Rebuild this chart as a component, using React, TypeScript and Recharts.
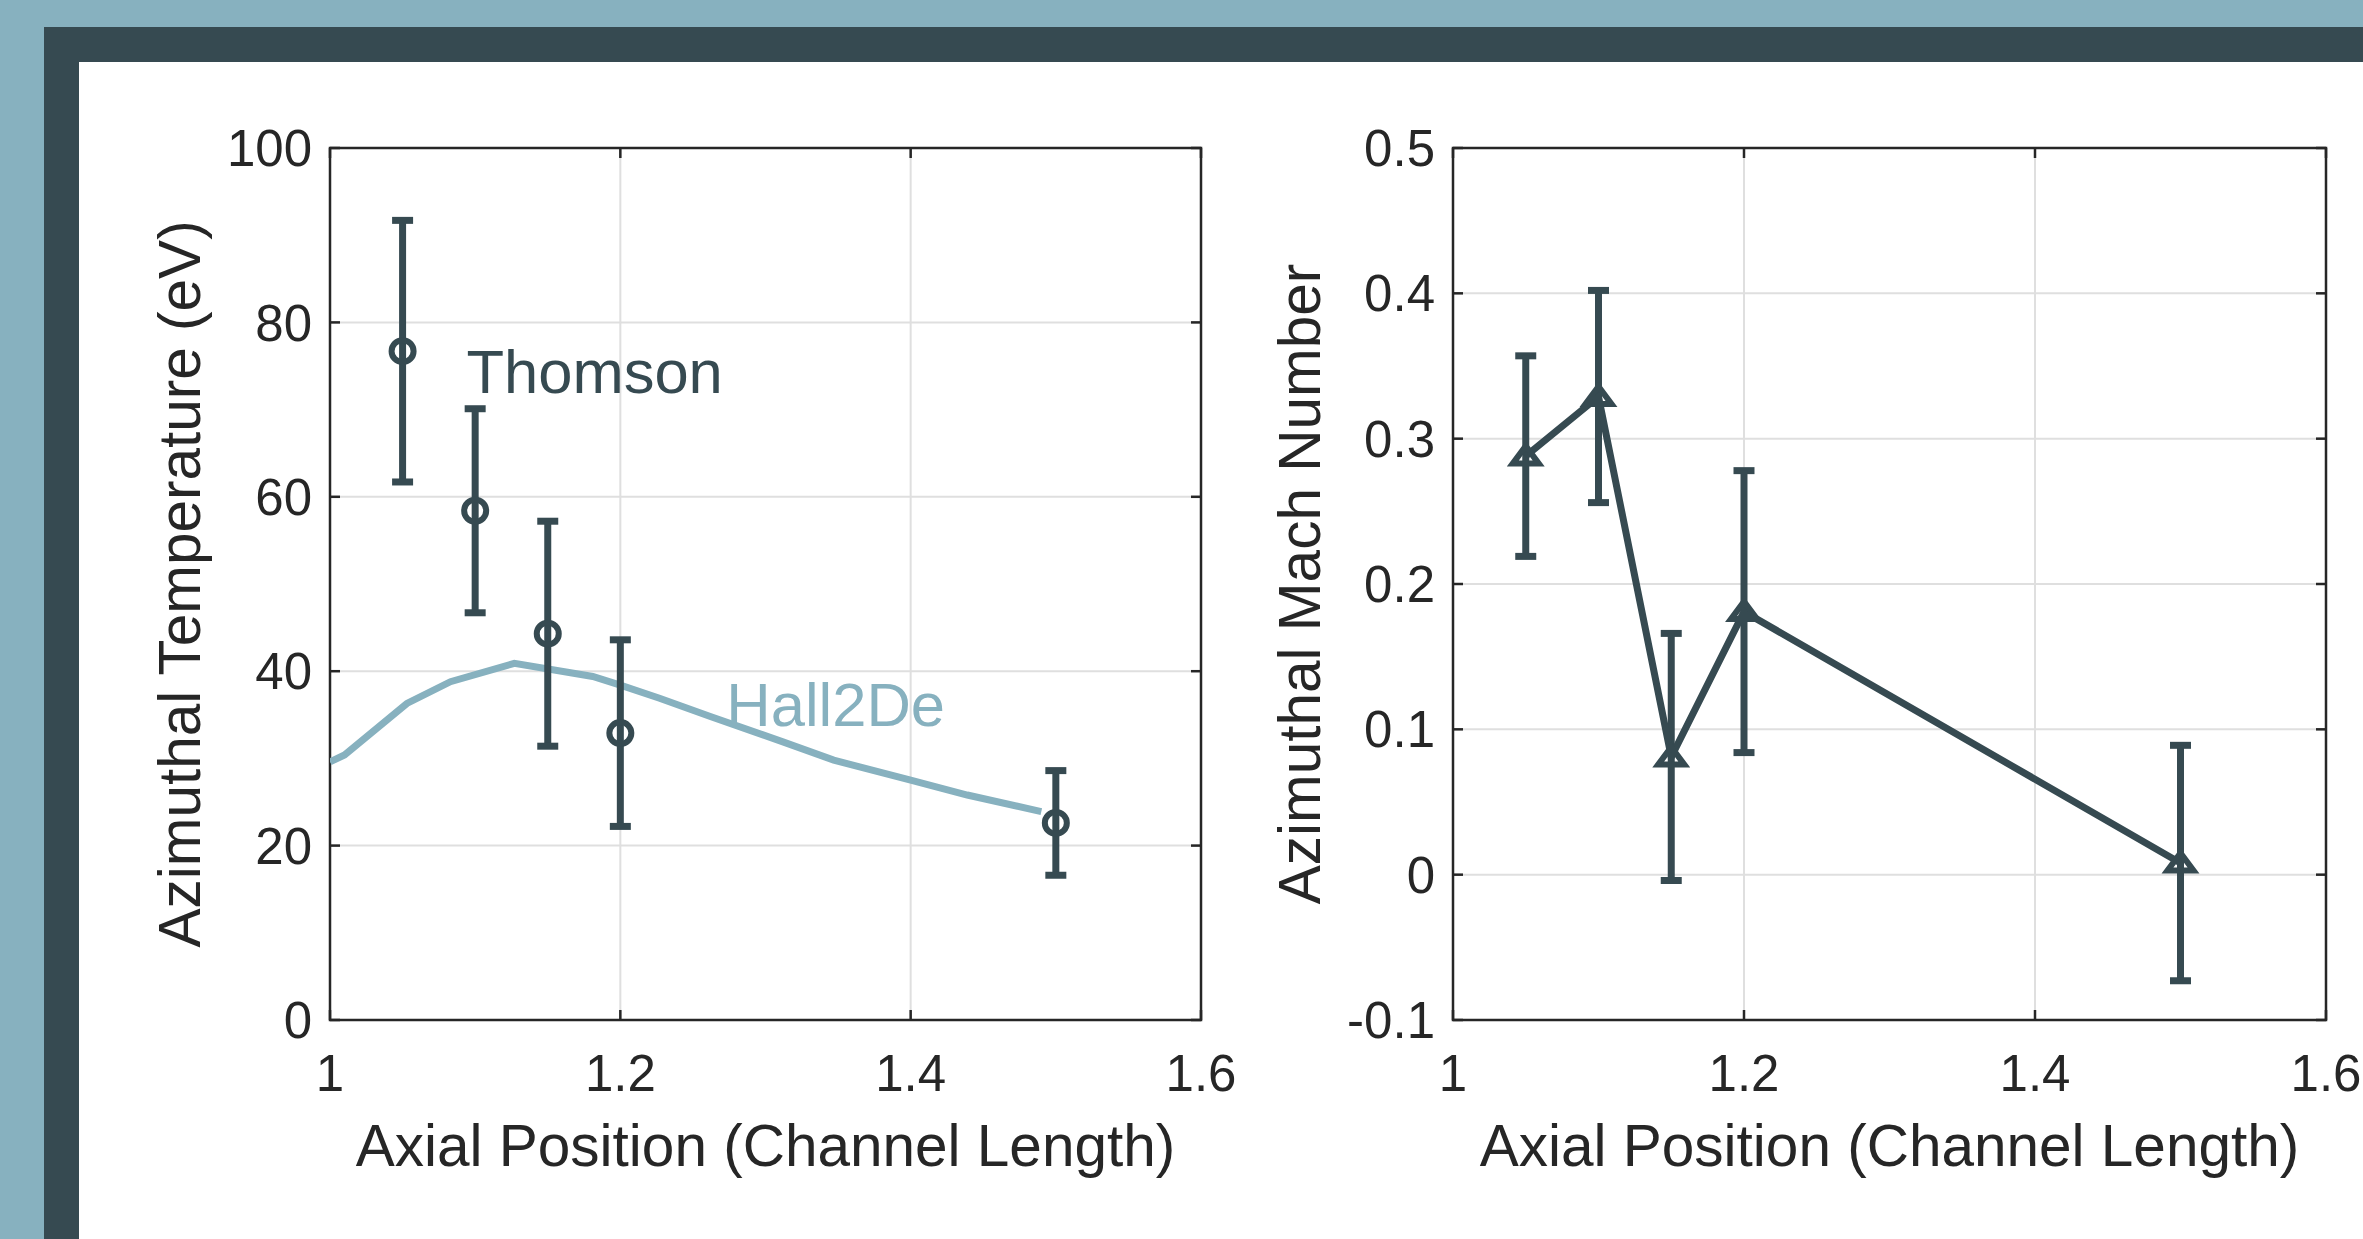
import React from 'react';
import {
  ComposedChart,
  Line,
  Scatter,
  XAxis,
  YAxis,
  CartesianGrid,
  ErrorBar,
  ReferenceArea,
  ReferenceDot,
} from 'recharts';

// values
const axialPositions = [1.05, 1.1, 1.15, 1.2, 1.5];
const thomsonTemp = [76.7, 58.4, 44.3, 32.9, 22.6];
const thomsonTempErr = [15.0, 11.7, 12.9, 10.7, 6.0];

const hallPositions = [1.0, 1.01, 1.053, 1.083, 1.127, 1.181, 1.2, 1.227, 1.262, 1.312, 1.347, 1.4, 1.439, 1.49];
const hallTemp = [29.6, 30.4, 36.3, 38.8, 40.9, 39.4, 38.4, 36.9, 34.8, 31.9, 29.8, 27.5, 25.8, 23.9];

const machNumber = [0.288, 0.329, 0.081, 0.181, 0.008];
const machErr = [0.069, 0.073, 0.085, 0.097, 0.081];

const xTicks = [1, 1.2, 1.4, 1.6];
const tempTicks = [0, 20, 40, 60, 80, 100];
const machTicks = [-0.1, 0, 0.1, 0.2, 0.3, 0.4, 0.5];

const DARK = '#364A51';
const LIGHT = '#87B1BF';
const AXIS = '#262626';
const GRID = '#DFDFDF';
const FONT = '"Liberation Sans", Arial, Helvetica, sans-serif';

const thomsonData = axialPositions.map((x, i) => ({ x, y: thomsonTemp[i], err: thomsonTempErr[i] }));
const hallData = hallPositions.map((x, i) => ({ x, y: hallTemp[i] }));
const machData = axialPositions.map((x, i) => ({ x, y: machNumber[i], err: machErr[i] }));

const TICK_GAP_Y = 18;
const TICK_GAP_X = 35;
const TICK_LEN = 10;

// inward ticks on both sides, MATLAB style
const makeYTick = (plotW: number) => (props: any) => {
  const { x, y, payload } = props;
  const ax = x + TICK_GAP_Y;
  return (
    <g>
      <line x1={ax} x2={ax + TICK_LEN} y1={y} y2={y} stroke={AXIS} strokeWidth={2.5} />
      <line x1={ax + plotW - TICK_LEN} x2={ax + plotW} y1={y} y2={y} stroke={AXIS} strokeWidth={2.5} />
      <text x={x} y={y} dy="0.355em" textAnchor="end" fontSize={51} fill={AXIS} fontFamily={FONT}>
        {payload.value}
      </text>
    </g>
  );
};

const makeXTick = (plotH: number) => (props: any) => {
  const { x, y, payload } = props;
  const ay = y - TICK_GAP_X;
  return (
    <g>
      <line x1={x} x2={x} y1={ay} y2={ay - TICK_LEN} stroke={AXIS} strokeWidth={2.5} />
      <line x1={x} x2={x} y1={ay - plotH} y2={ay - plotH + TICK_LEN} stroke={AXIS} strokeWidth={2.5} />
      <text x={x} y={y} dy="0.71em" textAnchor="middle" fontSize={51} fill={AXIS} fontFamily={FONT}>
        {payload.value}
      </text>
    </g>
  );
};

const yLabel = (text: string, offset: number) => (props: any) => {
  const vb = props.viewBox;
  if (!vb) return null;
  const cx = vb.x + offset;
  const cy = vb.y + vb.height / 2;
  return (
    <text
      x={cx}
      y={cy}
      dy="0.355em"
      transform={`rotate(-90 ${cx} ${cy})`}
      textAnchor="middle"
      fontSize={58.5}
      fill={AXIS}
      fontFamily={FONT}
    >
      {text}
    </text>
  );
};

const xLabel = (text: string, offset: number) => (props: any) => {
  const vb = props.viewBox;
  if (!vb) return null;
  return (
    <text
      x={vb.x + vb.width / 2}
      y={vb.y + vb.height - offset}
      textAnchor="middle"
      fontSize={58.5}
      fill={AXIS}
      fontFamily={FONT}
    >
      {text}
    </text>
  );
};

const CircleMarker = (p: any) => (
  <circle cx={p.cx} cy={p.cy} r={11} fill="none" stroke={DARK} strokeWidth={6} />
);

const TriangleMarker = (p: any) => {
  if (p.cx == null || p.cy == null) return null;
  const { cx, cy } = p;
  return (
    <polygon
      key={`tri-${p.index}`}
      points={`${cx},${cy - 10} ${cx + 13},${cy + 7.5} ${cx - 13},${cy + 7.5}`}
      fill="none"
      stroke={DARK}
      strokeWidth={6}
    />
  );
};

const textAnnotation = (text: string, color: string) => (p: any) => (
  <text x={p.cx} y={p.cy} fontSize={61.5} fill={color} fontFamily={FONT}>
    {text}
  </text>
);

const CHART_H = 1239;
const TOP = 148;
const X_AXIS_H = 219;
const PLOT_H = CHART_H - TOP - X_AXIS_H;

const LEFT_W = 1300;
const LEFT_Y_W = 330;
const LEFT_MR = 99;
const LEFT_PLOT_W = LEFT_W - LEFT_Y_W - LEFT_MR;

const RIGHT_X = 1240;
const RIGHT_W = 2363 - RIGHT_X;
const RIGHT_Y_W = 213;
const RIGHT_MR = 37;
const RIGHT_PLOT_W = RIGHT_W - RIGHT_Y_W - RIGHT_MR;

const App: React.FC = () => {
  return (
    <div
      style={{
        position: 'absolute',
        left: 0,
        top: 0,
        width: 2363,
        height: 1239,
        background: LIGHT,
        overflow: 'hidden',
        fontFamily: FONT,
      }}
    >
      <div style={{ position: 'absolute', left: 44, top: 27, width: 2363 - 44, height: 1239 - 27, background: DARK }} />
      <div style={{ position: 'absolute', left: 79, top: 62, width: 2363 - 79, height: 1239 - 62, background: '#ffffff' }} />

      {/* temperature panel */}
      <div style={{ position: 'absolute', left: 0, top: 0 }}>
        <ComposedChart
          width={LEFT_W}
          height={CHART_H}
          margin={{ top: TOP, right: LEFT_MR, bottom: 0, left: 0 }}
        >
          <CartesianGrid stroke={GRID} strokeWidth={2} />
          <XAxis
            dataKey="x"
            type="number"
            domain={[1, 1.6]}
            ticks={xTicks}
            interval={0}
            height={X_AXIS_H}
            tickSize={0}
            tickMargin={TICK_GAP_X}
            axisLine={false}
            tickLine={false}
            tick={makeXTick(PLOT_H)}
            allowDataOverflow
            label={xLabel('Axial Position (Channel Length)', 73)}
          />
          <YAxis
            type="number"
            domain={[0, 100]}
            ticks={tempTicks}
            interval={0}
            width={LEFT_Y_W}
            tickSize={0}
            tickMargin={TICK_GAP_Y}
            axisLine={false}
            tickLine={false}
            tick={makeYTick(LEFT_PLOT_W)}
            allowDataOverflow
            label={yLabel('Azimuthal Temperature (eV)', 179)}
          />
          <ReferenceArea x1={1} x2={1.6} y1={0} y2={100} fill="none" stroke={AXIS} strokeWidth={2.5} />
          <Line
            data={hallData}
            dataKey="y"
            type="linear"
            stroke={LIGHT}
            strokeWidth={7}
            dot={false}
            isAnimationActive={false}
          />
          <Scatter data={thomsonData} dataKey="y" shape={CircleMarker} isAnimationActive={false}>
            <ErrorBar dataKey="err" direction="y" width={10.5} strokeWidth={7} stroke={DARK} />
          </Scatter>
          <ReferenceDot x={1.094} y={71.9} r={0} shape={textAnnotation('Thomson', DARK)} />
          <ReferenceDot x={1.273} y={33.7} r={0} shape={textAnnotation('Hall2De', LIGHT)} />
        </ComposedChart>
      </div>

      {/* Mach number panel */}
      <div style={{ position: 'absolute', left: RIGHT_X, top: 0 }}>
        <ComposedChart
          width={RIGHT_W}
          height={CHART_H}
          margin={{ top: TOP, right: RIGHT_MR, bottom: 0, left: 0 }}
        >
          <CartesianGrid stroke={GRID} strokeWidth={2} />
          <XAxis
            dataKey="x"
            type="number"
            domain={[1, 1.6]}
            ticks={xTicks}
            interval={0}
            height={X_AXIS_H}
            tickSize={0}
            tickMargin={TICK_GAP_X}
            axisLine={false}
            tickLine={false}
            tick={makeXTick(PLOT_H)}
            allowDataOverflow
            label={xLabel('Axial Position (Channel Length)', 73)}
          />
          <YAxis
            type="number"
            domain={[-0.1, 0.5]}
            ticks={machTicks}
            interval={0}
            width={RIGHT_Y_W}
            tickSize={0}
            tickMargin={TICK_GAP_Y}
            axisLine={false}
            tickLine={false}
            tick={makeYTick(RIGHT_PLOT_W)}
            allowDataOverflow
            label={yLabel('Azimuthal Mach Number', 59)}
          />
          <ReferenceArea x1={1} x2={1.6} y1={-0.1} y2={0.5} fill="none" stroke={AXIS} strokeWidth={2.5} />
          <Line
            data={machData}
            dataKey="y"
            type="linear"
            stroke={DARK}
            strokeWidth={7}
            dot={TriangleMarker}
            activeDot={false}
            isAnimationActive={false}
          >
            <ErrorBar dataKey="err" direction="y" width={10.5} strokeWidth={7} stroke={DARK} />
          </Line>
        </ComposedChart>
      </div>
    </div>
  );
};

export default App;
